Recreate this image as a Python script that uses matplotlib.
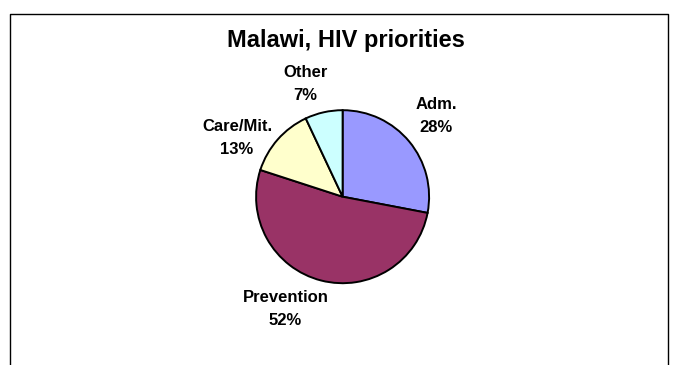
import matplotlib.pyplot as plt
from matplotlib.lines import Line2D

# Data
categories = ['Adm.', 'Prevention', 'Care/Mit.', 'Other']
shares = [28, 52, 13, 7]
colors = ['#9999FF', '#993366', '#FFFFCC', '#CCFFFF']

# label block centres, in pie radius units (layout only)
label_xy = [(1.08, 0.93), (-0.66, -1.30), (-1.22, 0.68), (-0.43, 1.30)]

plt.rcParams['font.family'] = ['Liberation Sans', 'DejaVu Sans']

W, H = 676, 365
fig = plt.figure(figsize=(W / 100, H / 100), dpi=100)

# pie centred at (342.6, 196.7) px, radius 86.5 px
cx, cy, r = 342.6, 196.7, 86.5
ax = fig.add_axes([(cx - r) / W, (H - cy - r) / H, 2 * r / W, 2 * r / H])
ax.pie(shares, colors=colors, startangle=90, counterclock=False, radius=1,
       wedgeprops=dict(edgecolor='black', linewidth=1.4))
ax.set_xlim(-1, 1)
ax.set_ylim(-1, 1)
ax.set_aspect('equal')
ax.axis('off')

for name, val, (x, y) in zip(categories, shares, label_xy):
    ax.text(x, y, f'{name}\n{val}%', ha='center', va='center',
            fontsize=12, fontweight='bold', linespacing=1.7, clip_on=False)

fig.text(346 / W, 1 - 40 / H, 'Malawi, HIV priorities', ha='center', va='center',
         fontsize=17, fontweight='bold')

# chart area border (left, top, right)
bx0, bx1, by = 9.5 / W, 667.5 / W, 1 - 13.5 / H
fig.add_artist(Line2D([bx0, bx0, bx1, bx1], [0, by, by, 0],
                      color='black', linewidth=1.0, transform=fig.transFigure))

fig.savefig('out.png', dpi=100)
